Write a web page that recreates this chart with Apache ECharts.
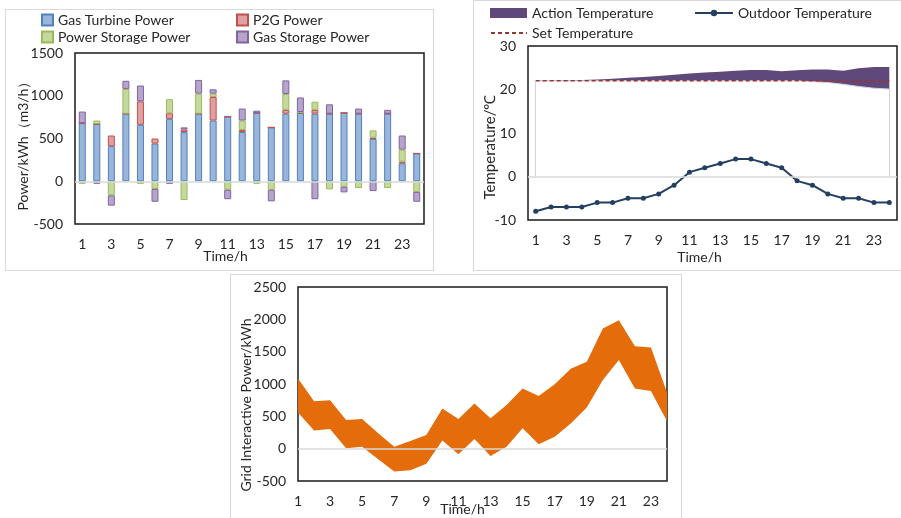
<!DOCTYPE html>
<html>
<head>
<meta charset="utf-8">
<title>IES operation charts</title>
<script src="https://cdn.jsdelivr.net/npm/echarts@6.0.0/dist/echarts.min.js"></script>
<style>
    html, body { margin: 0; padding: 0; background: #fff; width: 901px; height: 518px; overflow: hidden; }
    .panel { position: absolute; box-sizing: border-box; border: 1px solid #d9d9d9; background: #fff; }
    .panel > div { position: absolute; left: 0; top: 0; width: 100%; height: 100%; }
</style>
</head>
<body>

<div class="panel" style="left:5px; top:9px; width:429px; height:262px;"><div id="power_bars"></div></div>
<div class="panel" style="left:473px; top:0px; width:440px; height:271px;"><div id="temp_band"></div></div>
<div class="panel" style="left:230px; top:274px; width:452px; height:250px;"><div id="grid_band"></div></div>

<script>
// ------------------------------
// Data
// ------------------------------

var hours = ['1', '2', '3', '4', '5', '6', '7', '8', '9', '10', '11', '12',
             '13', '14', '15', '16', '17', '18', '19', '20', '21', '22', '23', '24'];

// Top left - stacked power (kWh / m3/h)
var gasTurbinePower   = [680, 670, 410, 790, 660, 440, 730, 575, 790, 710, 755, 575, 800, 630, 790, 800, 790, 790, 800, 790, 495, 790, 210, 325];
var p2gPower          = [0, 0, 125, 0, 275, 60, 65, 30, 0, 275, 0, 25, 0, 0, 45, 0, 45, 0, 0, 0, 15, 0, 20, 0];
var powerStoragePower = [-30, 40, -165, 290, -30, -90, 165, -220, 235, 40, -100, 110, -30, -100, 185, 10, 95, -95, -65, -80, 85, -80, 140, -125];
var gasStoragePower   = [135, -30, -120, 95, 185, -150, -30, 25, 160, 50, -110, 140, 25, -135, 160, 170, -210, 110, -65, 60, -115, 45, 165, -115];

// Top right - temperatures (degC)
var actionTempLower = [22, 22, 22, 22, 22, 22, 22, 22, 22, 22, 22, 22, 22, 22, 22, 22, 22, 22, 21.8, 21.6, 21.2, 20.7, 20.3, 20.1];
var actionTempUpper = [22.1, 22.1, 22.2, 22.2, 22.3, 22.5, 22.7, 22.9, 23.1, 23.4, 23.7, 23.9, 24.1, 24.3, 24.5, 24.5, 24.2, 24.4, 24.6, 24.6, 24.3, 24.9, 25.2, 25.2];
var setTemp         = [22, 22, 22, 22, 22, 22, 22, 22, 22, 22, 22, 22, 22, 22, 22, 22, 22, 22, 22, 22, 22, 22, 22, 22];
var outdoorTemp     = [-8, -7, -7, -7, -6, -6, -5, -5, -4, -2, 1, 2, 3, 4, 4, 3, 2, -1, -2, -4, -5, -5, -6, -6];

// Bottom - grid interactive power range (kWh)
var gridPowerUpper = [1085, 735, 750, 445, 460, 240, 30, 120, 210, 620, 460, 700, 470, 675, 930, 815, 995, 1235, 1345, 1860, 1985, 1585, 1565, 870];
var gridPowerLower = [560, 280, 305, 5, 30, -165, -355, -335, -235, 125, -85, 150, -115, 30, 315, 70, 185, 390, 635, 1060, 1370, 930, 890, 425];

// Tick labels
var powerTicks = { min: -500, max: 1500, interval: 500 };
var tempTicks  = { min: -10, max: 30, interval: 10 };
var gridTicks  = { min: -500, max: 2500, interval: 500 };


// ------------------------------
// Setup module
// ------------------------------

var IesCharts = function() {

    var font = 'Lato, "Open Sans", sans-serif';
    var textColor = '#262626';

    // Common pieces
    var zeroLine = {
        silent: true,
        symbol: 'none',
        label: { show: false },
        lineStyle: { color: '#d9d9d9', type: 'solid', width: 1.5 },
        data: [{ yAxis: 0 }]
    };

    var gridBox = function(left, top, width, height) {
        return {
            left: left, top: top, width: width, height: height,
            containLabel: false,
            outerBoundsMode: 'none',
            show: true,
            borderColor: '#1a1a1a',
            borderWidth: 1.5
        };
    };

    var xCategory = function(boundaryGap, nameGap, namePad) {
        return {
            type: 'category',
            data: hours,
            boundaryGap: boundaryGap,
            name: 'Time/h',
            nameLocation: 'middle',
            nameGap: nameGap,
            nameMoveOverlap: false,
            nameTextStyle: { fontSize: 14, color: textColor, fontFamily: font, padding: [0, namePad, 0, 0] },
            axisLine: { show: false, onZero: false },
            axisTick: { show: false },
            axisLabel: { interval: 1, fontSize: 14, color: textColor, margin: 13, fontFamily: font },
            splitLine: { show: false }
        };
    };

    var yValue = function(ticks, name, nameGap, namePad, nameSize) {
        return {
            type: 'value',
            min: ticks.min,
            max: ticks.max,
            interval: ticks.interval,
            name: name,
            nameLocation: 'middle',
            nameGap: nameGap,
            nameRotate: 90,
            nameMoveOverlap: false,
            nameTextStyle: { fontSize: nameSize, color: textColor, fontFamily: font, padding: [0, namePad, 0, 0] },
            axisLine: { show: false },
            axisTick: { show: false },
            axisLabel: {
                fontSize: 14, color: textColor, margin: 12, fontFamily: font,
                formatter: function(v) { return String(v); }
            },
            splitLine: { show: false }
        };
    };

    var oneLegend = function(name, left, top, extra) {
        var lg = {
            data: [{ name: name }],
            left: left,
            top: top,
            itemGap: 0,
            selectedMode: false,
            textStyle: { fontSize: 14, color: textColor, fontFamily: font }
        };
        for (var k in extra) { lg[k] = extra[k]; }
        return lg;
    };


    //
    // Top left: stacked power bars
    //

    var _powerBars = function() {
        var el = document.getElementById('power_bars');
        if (!el) return;
        var chart = echarts.init(el, null, { renderer: 'canvas' });

        var barSeries = function(name, data, fill, border) {
            return {
                name: name,
                type: 'bar',
                stack: 'power',
                barWidth: 7,
                data: data,
                itemStyle: { color: fill, borderColor: border, borderWidth: 1 }
            };
        };

        var series = [
            barSeries('Gas Turbine Power', gasTurbinePower, '#9ab5da', '#4f81bd'),
            barSeries('P2G Power', p2gPower, '#dea0a0', '#c0504d'),
            barSeries('Power Storage Power', powerStoragePower, '#c5d99f', '#9bbb59'),
            barSeries('Gas Storage Power', gasStoragePower, '#b5a5cb', '#8064a2')
        ];
        series[0].markLine = zeroLine;

        var sq = { itemWidth: 11, itemHeight: 11, icon: 'rect' };

        chart.setOption({
            animation: false,
            textStyle: { fontFamily: font },
            legend: [
                oneLegend('Gas Turbine Power', 30, -2, sq),
                oneLegend('P2G Power', 225, -2, sq),
                oneLegend('Power Storage Power', 30, 15, sq),
                oneLegend('Gas Storage Power', 225, 15, sq)
            ],
            grid: gridBox(69, 43, 349, 171),
            xAxis: xCategory(true, 25, 48),
            yAxis: yValue(powerTicks, 'Power/kWh（m3/h）', 45, 8, 14),
            series: series
        });
    };


    //
    // Top right: temperature band
    //

    var _tempBand = function() {
        var el = document.getElementById('temp_band');
        if (!el) return;
        var chart = echarts.init(el, null, { renderer: 'canvas' });

        var bandWidth = actionTempUpper.map(function(v, i) {
            return +(v - actionTempLower[i]).toFixed(2);
        });
        var last = hours.length - 1;

        chart.setOption({
            animation: false,
            textStyle: { fontFamily: font },
            legend: [
                oneLegend('Action Temperature', 11, 0, { itemWidth: 37, itemHeight: 10, icon: 'rect' }),
                oneLegend('Outdoor Temperature', 215, 0, { itemWidth: 38, itemHeight: 8 }),
                oneLegend('Set Temperature', 11, 20, {
                    itemWidth: 36, itemHeight: 8,
                    itemStyle: { color: 'rgba(0,0,0,0)', borderWidth: 0 }
                })
            ],
            grid: gridBox(54, 45, 369, 174),
            xAxis: xCategory(true, 30, 26),
            yAxis: yValue(tempTicks, 'Temperature/℃', 30, 28, 15),
            series: [
                {
                    name: 'base',
                    type: 'line',
                    stack: 'action',
                    stackStrategy: 'all',
                    data: actionTempLower,
                    symbol: 'none',
                    lineStyle: { color: '#d3cfe0', width: 1 },
                    areaStyle: { color: '#fff', opacity: 1 },
                    markLine: {
                        silent: true,
                        symbol: 'none',
                        label: { show: false },
                        lineStyle: { color: '#d3cfe0', type: 'solid', width: 1 },
                        data: [
                            [{ coord: [hours[0], 0] }, { coord: [hours[0], actionTempLower[0]] }],
                            [{ coord: [hours[last], 0] }, { coord: [hours[last], actionTempLower[last]] }]
                        ]
                    }
                },
                {
                    name: 'Action Temperature',
                    type: 'line',
                    stack: 'action',
                    stackStrategy: 'all',
                    data: bandWidth,
                    symbol: 'none',
                    color: '#5f497a',
                    lineStyle: { width: 0 },
                    areaStyle: { color: '#5f497a', opacity: 1 }
                },
                {
                    name: 'Set Temperature',
                    type: 'line',
                    data: setTemp,
                    symbol: 'none',
                    color: '#953735',
                    lineStyle: { color: '#953735', width: 1.5, type: [4, 3] },
                    markLine: zeroLine
                },
                {
                    name: 'Outdoor Temperature',
                    type: 'line',
                    data: outdoorTemp,
                    symbol: 'circle',
                    symbolSize: 5,
                    color: '#243f60',
                    lineStyle: { color: '#243f60', width: 2 },
                    itemStyle: { color: '#243f60' }
                }
            ]
        });
    };


    //
    // Bottom: grid interactive power band
    //

    var _gridBand = function() {
        var el = document.getElementById('grid_band');
        if (!el) return;
        var chart = echarts.init(el, null, { renderer: 'canvas' });

        var bandWidth = gridPowerUpper.map(function(v, i) {
            return v - gridPowerLower[i];
        });

        chart.setOption({
            animation: false,
            textStyle: { fontFamily: font },
            grid: gridBox(67, 12, 369, 194),
            xAxis: xCategory(false, 21, 40),
            yAxis: yValue(gridTicks, 'Grid Interactive Power/kWh', 45, 42, 14),
            series: [
                {
                    name: 'lower',
                    type: 'line',
                    stack: 'grid',
                    stackStrategy: 'all',
                    data: gridPowerLower,
                    symbol: 'none',
                    lineStyle: { width: 0, opacity: 0 },
                    markLine: zeroLine
                },
                {
                    name: 'Grid Interactive Power',
                    type: 'line',
                    stack: 'grid',
                    stackStrategy: 'all',
                    data: bandWidth,
                    symbol: 'none',
                    lineStyle: { width: 0 },
                    areaStyle: { color: '#e46c0a', opacity: 1 }
                }
            ]
        });
    };


    return {
        init: function() {
            _powerBars();
            _tempBand();
            _gridBand();
        }
    };
}();


// Initialize module
// ------------------------------

document.addEventListener('DOMContentLoaded', function() {
    IesCharts.init();
});
</script>
</body>
</html>
